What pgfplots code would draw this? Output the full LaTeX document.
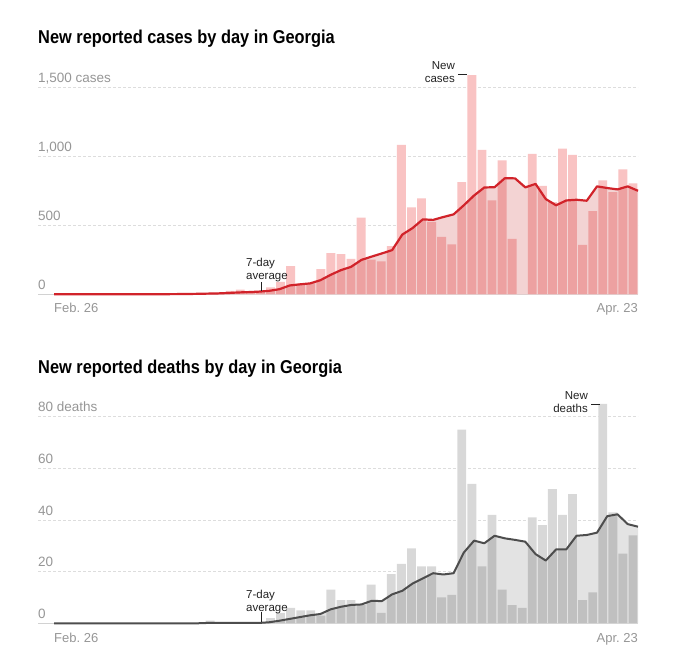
\documentclass[border=0pt]{standalone}
\usepackage{fontspec}
\setmainfont{Liberation Sans}
\newfontfamily\titlefont[FakeStretch=0.88]{Liberation Sans}
\usepackage{pgfplots}
\usepackage{pgfplotstable}
\pgfplotsset{compat=1.18}
\frenchspacing

\definecolor{casebar}{RGB}{249,195,195}
\definecolor{casearea}{RGB}{243,211,211}
\definecolor{casered}{RGB}{209,35,42}
\definecolor{deathbar}{RGB}{216,216,216}
\definecolor{deatharea}{RGB}{227,227,227}
\definecolor{deathline}{RGB}{77,77,77}
\definecolor{gridc}{RGB}{221,221,221}
\definecolor{basec}{RGB}{210,210,210}
\definecolor{tickc}{RGB}{150,150,150}
\definecolor{annc}{RGB}{34,34,34}

% i = day index (0 = Feb. 26), c = new cases, a = 7-day average
\pgfplotstableread{
i c a
0 0 0
1 0 0
2 0 0
3 0 0
4 0 0
5 2 0.3
6 0 0.3
7 0 0.3
8 0 0.3
9 3 0.7
10 1 0.6
11 1 0.9
12 5 1.4
13 5 2.1
14 9 3.4
15 11 4.9
16 11 6.4
17 24 9.4
18 33 13.4
19 22 15.9
20 25 19.3
21 51 25
22 90 37
23 205 64
24 78 72
25 80 79
26 183 102
27 298 141
28 291 175
29 256 199
30 555 249
31 252 273
32 238 296
33 349 320
34 1082 433
35 630 480
36 695 543
37 524 539
38 416 560
39 361 579
40 813 645
41 1589 716
42 1046 774
43 680 776
44 971 841
45 401 840
46 0 775
47 1017 800
48 786 690
49 668 645
50 1055 680
51 1010 685
52 358 678
53 603 782
54 825 770
55 740 760
56 906 782
57 803 750
}\casedata

% i = day index, d = new deaths, a = 7-day average
\pgfplotstableread{
i d a
0 0 0
1 0 0
2 0 0
3 0 0
4 0 0
5 0 0
6 0 0
7 0 0
8 0 0
9 0 0
10 0 0
11 0 0
12 0 0
13 0 0
14 0 0
15 1 0.14
16 0 0.14
17 0 0.14
18 0 0.14
19 0 0.14
20 0 0.14
21 2 0.4
22 4 1.0
23 6 1.7
24 5 2.4
25 5 3.1
26 3 3.6
27 13 5.4
28 9 6.4
29 9 7.1
30 7 7.3
31 15 8.7
32 4 8.6
33 19 11.2
34 23 12.6
35 29 15.4
36 22 17.4
37 22 19.4
38 10 18.9
39 11 19.4
40 75 27.4
41 54 32
42 22 31
43 42 33.9
44 13 32.9
45 7 32.3
46 6 31.6
47 41 26.8
48 38 24.3
49 52 28.6
50 42 28.6
51 50 33.9
52 9 34.2
53 12 35.1
54 85 41.5
55 43 42.2
56 27 38.4
57 34 37.4
}\deathdata

\pgfplotsset{
  nytstyle/.style={
    scale only axis, anchor=south west,
    width=600pt,
    xmin=-2.089, xmax=57.5, ymin=0,
    axis line style={draw=none}, major tick length=0pt,
    xtick=\empty,
    ymajorgrids,
    grid style={color=gridc, line width=0.7pt, dash pattern=on 3pt off 2pt},
    extra y ticks={0}, extra y tick labels={0},
    extra y tick style={grid style={solid, color=basec, line width=1pt}},
    yticklabel style={anchor=base west, inner sep=0pt, yshift=4.8pt,
      font=\fontsize{13.5}{14}\selectfont, text=tickc},
    clip=false,
  },
}

\begin{document}
\begin{tikzpicture}
\useasboundingbox (0,0) rectangle (676pt,658pt);

% ---------- cases ----------
\begin{axis}[nytstyle, at={(38pt,363.7pt)}, height=223.56pt, ymax=1620,
  ytick={500,1000,1500}, yticklabels={500,{1,000},{1,500 cases}}]
\addplot[ybar, bar shift=0pt, bar width=0.88, draw=none, fill=white]
  table[x=i, y=c] {\casedata};
\addplot[draw=none, fill=casearea]
  table[x expr=\coordindex*58/57-0.5, y=a] {\casedata} \closedcycle;
\addplot[ybar, bar shift=0pt, bar width=0.88, draw=none, fill=casebar, blend mode=multiply]
  table[x=i, y=c] {\casedata};
\addplot[line width=2.2pt, color=casered, line join=round, mark=none]
  table[x expr=\coordindex*58/57-0.5, y=a] {\casedata};
\node[anchor=base west, inner sep=0pt, text=tickc, font=\fontsize{13}{14}\selectfont]
  at (axis cs:-0.5,0) [yshift=-18.7pt] {Feb. 26};
\node[anchor=base east, inner sep=0pt, text=tickc, font=\fontsize{13}{14}\selectfont]
  at (axis cs:57.5,0) [yshift=-18.7pt] {Apr. 23};
\end{axis}

% ---------- deaths ----------
\begin{axis}[nytstyle, at={(38pt,34.7pt)}, height=227.26pt, ymax=88,
  ytick={20,40,60,80}, yticklabels={20,40,60,{80 deaths}}]
\addplot[ybar, bar shift=0pt, bar width=0.88, draw=none, fill=white]
  table[x=i, y=d] {\deathdata};
\addplot[draw=none, fill=deatharea]
  table[x expr=\coordindex*58/57-0.5, y=a] {\deathdata} \closedcycle;
\addplot[ybar, bar shift=0pt, bar width=0.88, draw=none, fill=deathbar, blend mode=multiply]
  table[x=i, y=d] {\deathdata};
\addplot[line width=2pt, color=deathline, line join=round, mark=none]
  table[x expr=\coordindex*58/57-0.5, y=a] {\deathdata};
\node[anchor=base west, inner sep=0pt, text=tickc, font=\fontsize{13}{14}\selectfont]
  at (axis cs:-0.5,0) [yshift=-18.7pt] {Feb. 26};
\node[anchor=base east, inner sep=0pt, text=tickc, font=\fontsize{13}{14}\selectfont]
  at (axis cs:57.5,0) [yshift=-18.7pt] {Apr. 23};
\end{axis}

% ---------- titles ----------
\node[anchor=base west, inner sep=0pt, text=black, font=\titlefont\bfseries\fontsize{18.6}{20}\selectfont]
  at (38pt,614.7pt) {New reported cases by day in Georgia};
\node[anchor=base west, inner sep=0pt, text=black, font=\titlefont\bfseries\fontsize{18.6}{20}\selectfont]
  at (38pt,284.7pt) {New reported deaths by day in Georgia};

% ---------- annotations ----------
\begin{scope}[every node/.style={inner sep=0pt, text=annc, font=\fontsize{11.5}{13}\selectfont}]
\node[anchor=base west] at (246pt,391pt) {7-day};
\node[anchor=base west] at (246pt,378pt) {average};
\draw[annc, line width=0.8pt] (261pt,376pt) -- (261pt,367pt);
\node[anchor=base east] at (455pt,588pt) {New};
\node[anchor=base east] at (455pt,575pt) {cases};
\draw[annc, line width=0.8pt] (458pt,583.7pt) -- (467pt,583.7pt);

\node[anchor=base west] at (246pt,60pt) {7-day};
\node[anchor=base west] at (246pt,47pt) {average};
\draw[annc, line width=0.8pt] (261pt,46pt) -- (261pt,36pt);
\node[anchor=base east] at (588pt,258pt) {New};
\node[anchor=base east] at (588pt,245pt) {deaths};
\draw[annc, line width=0.8pt] (591pt,254pt) -- (600pt,254pt);
\end{scope}
\end{tikzpicture}
\end{document}
